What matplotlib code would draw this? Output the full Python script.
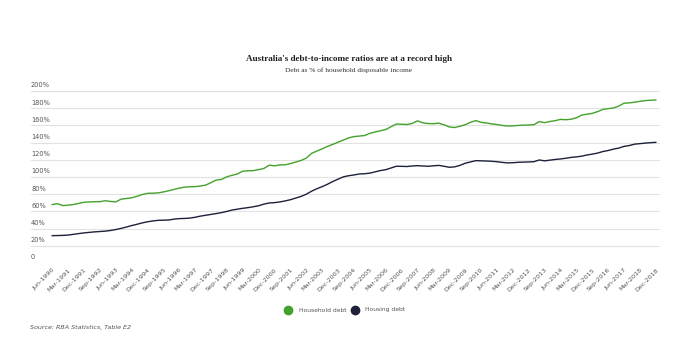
import pandas as pd
import matplotlib.pyplot as plt
import matplotlib.transforms as mtransforms

# quarterly, Jun-1990 .. Dec-2018 (% of household disposable income)
quarters = pd.period_range("1990Q2", "2018Q4", freq="Q")

household_debt = [
    68.0, 69.0, 66.8, 67.2, 68.0, 69.3, 70.6, 71.0, 71.2, 71.3,
    72.4, 71.6, 71.0, 74.2, 75.0, 75.8, 77.5, 79.6, 81.0, 81.2,
    81.5, 82.6, 84.0, 85.6, 87.0, 88.3, 88.6, 88.8, 89.5, 90.6,
    93.5, 96.5, 97.2, 100.3, 102.0, 103.6, 106.8, 107.2, 107.4, 108.6,
    110.0, 113.8, 113.0, 114.0, 114.2, 115.6, 117.4, 119.2, 122.0, 127.5,
    130.2, 132.8, 135.6, 138.0, 140.5, 143.0, 145.5, 147.0, 147.6, 148.2,
    150.8, 152.4, 153.8, 155.2, 158.5, 161.6, 161.4, 161.0, 162.3, 165.3,
    163.0, 162.2, 162.0, 162.6, 160.8, 158.2, 157.5, 159.0, 160.8, 163.6,
    165.6, 163.6, 162.8, 161.8, 161.0, 160.0, 159.3, 159.5, 160.0, 160.3,
    160.5, 160.8, 164.5, 163.2, 164.6, 165.5, 167.0, 166.6, 167.2, 168.8,
    172.0, 173.0, 174.0, 176.0, 178.6, 179.5, 180.2, 182.5, 185.8, 186.2,
    187.0, 188.0, 188.8, 189.3, 189.5,
]

housing_debt = [
    31.8, 31.9, 32.1, 32.5, 33.3, 34.2, 35.0, 35.6, 36.2, 36.6,
    37.0, 37.8, 38.9, 40.2, 41.8, 43.5, 45.0, 46.6, 47.9, 48.9,
    49.6, 49.8, 50.0, 51.0, 51.6, 51.8, 52.2, 53.2, 54.5, 55.5,
    56.5, 57.5, 58.6, 60.0, 61.6, 62.6, 63.6, 64.4, 65.4, 66.6,
    68.5, 69.8, 70.2, 71.0, 72.2, 73.6, 75.5, 77.4, 80.0, 83.5,
    86.4, 88.8, 91.6, 94.8, 97.5, 100.2, 101.5, 102.4, 103.5, 103.8,
    104.5, 106.0, 107.5, 108.5, 110.5, 112.5, 112.4, 112.2, 112.8, 113.2,
    112.8, 112.5, 113.0, 113.5, 112.5, 111.3, 111.8, 113.5, 116.0, 117.5,
    119.0, 118.8, 118.6, 118.3, 117.8, 117.0, 116.4, 116.6, 117.1, 117.3,
    117.5, 117.8, 119.8, 118.8, 119.6, 120.4, 121.0, 121.8, 122.8, 123.4,
    124.2, 125.6, 126.6, 127.8, 129.6, 130.8, 132.4, 133.6, 135.6, 136.6,
    138.2, 138.8, 139.4, 139.9, 140.3,
]

labels = [q.to_timestamp(how="end").strftime("%b-%Y") for q in quarters]
y_ticks = [0, 20, 40, 60, 80, 100, 120, 140, 160, 180, 200]

green = "#43a22c"
navy = "#1d2139"
grey = "#555555"

fig = plt.figure(figsize=(6.8, 3.45), dpi=100)
ax = fig.add_axes([0.0456, 0.2377, 0.925, 0.4985])

x = list(range(len(quarters)))
ax.plot(x, household_debt, color=green, lw=1.0)
ax.plot(x, housing_debt, color=navy, lw=1.0)

ax.set_xlim(-4.0, len(x) - 1 + 0.8)
ax.set_ylim(0, 200)
for v in y_ticks:
    ax.axhline(v, color="#e2e2e2", lw=0.8, zorder=0)

# y labels sit just above their gridlines
trans = mtransforms.blended_transform_factory(ax.transAxes, ax.transData)
for v in y_ticks:
    ax.text(0.0, v + 3, "0" if v == 0 else f"{v}%", transform=trans,
            fontsize=4.8, color=grey, ha="left", va="bottom",
            family="DejaVu Sans")
ax.set_yticks([])

ax.set_xticks(x[::3])
ax.set_xticklabels(labels[::3], rotation=45, ha="right",
                   rotation_mode="anchor", fontsize=4.6, color=grey)
ax.tick_params(axis="x", length=0, pad=3)
for s in ax.spines.values():
    s.set_visible(False)

fig.text(0.513, 0.83, "Australia's debt-to-income ratios are at a record high",
         ha="center", va="center", fontsize=6.6, fontweight="bold",
         family="Liberation Serif", color="#222222")
fig.text(0.513, 0.797, "Debt as % of household disposable income",
         ha="center", va="center", fontsize=5.3,
         family="Liberation Serif", color="#333333")

# legend
fig.lines.append(plt.Line2D([288 / 680], [1 - 310 / 345], marker="o", ms=6,
                            color=green, transform=fig.transFigure, lw=0))
fig.text(299 / 680, 1 - 310 / 345, "Household debt", fontsize=4.3,
         color=grey, va="center")
fig.lines.append(plt.Line2D([355 / 680], [1 - 310 / 345], marker="o", ms=6,
                            color=navy, transform=fig.transFigure, lw=0))
fig.text(365 / 680, 1 - 310 / 345, "Housing debt", fontsize=4.3,
         color=grey, va="center")

fig.text(30 / 680, 1 - 328 / 345, "Source: RBA Statistics, Table E2",
         fontsize=4.6, style="italic", color=grey, va="center")

fig.savefig("out.png", dpi=100)
